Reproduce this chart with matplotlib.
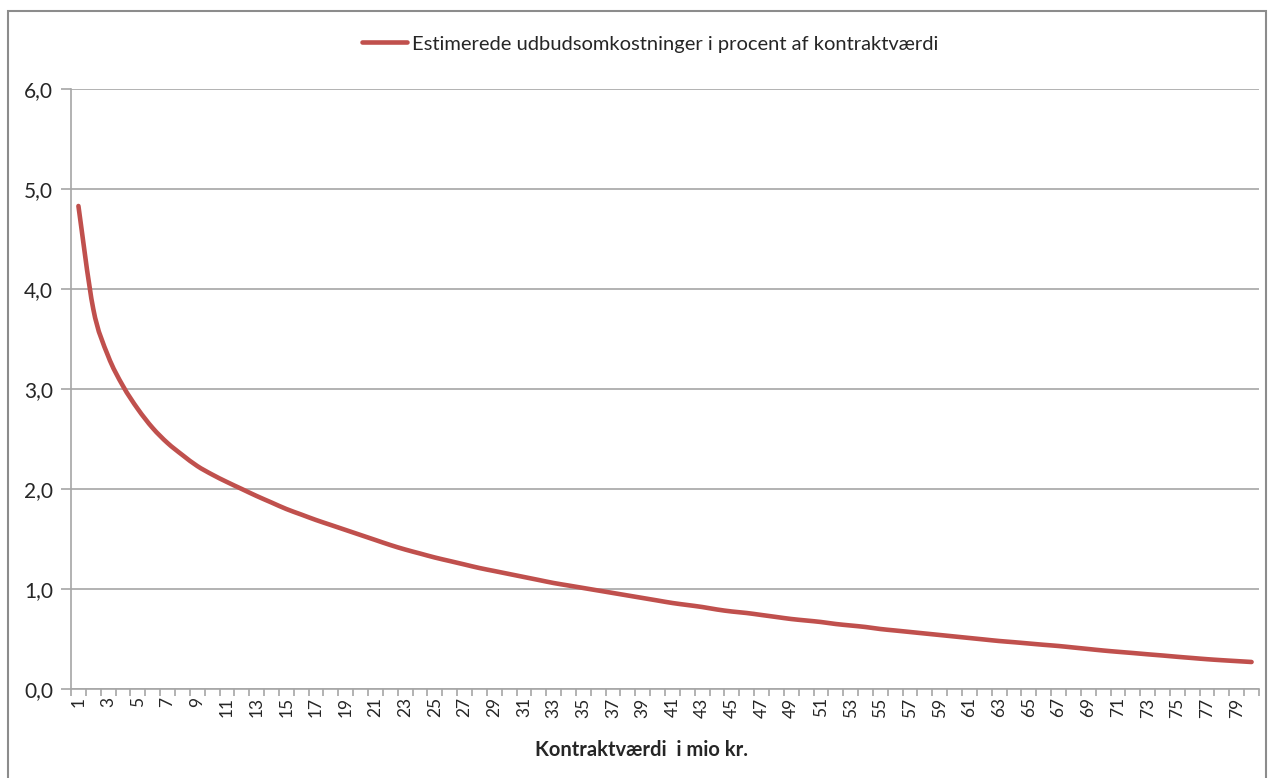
"""
Udbudsomkostninger som procent af kontraktværdi (1-80 mio kr.)
"""

import matplotlib
matplotlib.use('Agg')
import matplotlib.pyplot as plt
from matplotlib.path import Path
from matplotlib.patches import PathPatch, Rectangle
from matplotlib.lines import Line2D
import numpy as np

plt.rcParams['font.family'] = ['Lato', 'DejaVu Sans']

# kontraktværdi i mio kr. (kategorier)
kontraktvaerdi = list(range(1, 81))

# estimerede udbudsomkostninger i procent
omkostning_pct = [
    4.83, 3.80, 3.33, 3.03, 2.80, 2.61, 2.46, 2.34, 2.23, 2.145,
    2.07, 2.00, 1.93, 1.865, 1.80, 1.745, 1.69, 1.64, 1.59, 1.54,
    1.49, 1.44, 1.395, 1.355, 1.315, 1.28, 1.245, 1.21, 1.18, 1.15,
    1.12, 1.09, 1.06, 1.035, 1.01, 0.985, 0.96, 0.935, 0.91, 0.885,
    0.86, 0.84, 0.82, 0.795, 0.775, 0.76, 0.74, 0.72, 0.70, 0.685,
    0.67, 0.65, 0.635, 0.62, 0.60, 0.585, 0.57, 0.555, 0.54, 0.525,
    0.51, 0.495, 0.48, 0.468, 0.455, 0.442, 0.43, 0.415, 0.40, 0.385,
    0.372, 0.36, 0.347, 0.335, 0.322, 0.31, 0.298, 0.288, 0.279, 0.27,
]

y_ticks = [0, 1, 2, 3, 4, 5, 6]
y_ticklabels = ['0,0', '1,0', '2,0', '3,0', '4,0', '5,0', '6,0']

serie_navn = 'Estimerede udbudsomkostninger i procent af kontraktværdi'
x_titel = 'Kontraktværdi  i mio kr.'

RED = '#C0504D'
GRID = '#A6A6A6'


def smooth_path(x, y):
    # glat kurve gennem punkterne (Catmull-Rom som kubiske bezier-stykker)
    x = np.asarray(x, float)
    y = np.asarray(y, float)
    n = len(x)
    verts = [(x[0], y[0])]
    codes = [Path.MOVETO]
    for i in range(n - 1):
        i0 = max(i - 1, 0)
        i3 = min(i + 2, n - 1)
        c1 = (x[i] + (x[i + 1] - x[i0]) / 6, y[i] + (y[i + 1] - y[i0]) / 6)
        c2 = (x[i + 1] - (x[i3] - x[i]) / 6, y[i + 1] - (y[i3] - y[i]) / 6)
        verts += [c1, c2, (x[i + 1], y[i + 1])]
        codes += [Path.CURVE4] * 3
    return Path(verts, codes)


fig = plt.figure(figsize=(12.72, 7.78), dpi=100)
ax = fig.add_axes([71 / 1272, 89 / 778, 1188 / 1272, 600 / 778])

# ydre ramme om diagrammet
fig.patches.append(Rectangle((8 / 1272, -0.05), 1258 / 1272, 1.05 - 11 / 778,
                             transform=fig.transFigure, fill=False,
                             edgecolor='#8C8C8C', lw=1.5))

ax.add_patch(PathPatch(smooth_path(kontraktvaerdi, omkostning_pct), fill=False,
                       edgecolor=RED, lw=3.3, capstyle='round', joinstyle='round',
                       zorder=3))

ax.set_xlim(0.5, len(kontraktvaerdi) + 0.5)
ax.set_ylim(0, 6)

ax.set_yticks(y_ticks)
ax.set_yticklabels(y_ticklabels, fontsize=15, color='#262626')
ax.yaxis.grid(True, color=GRID, lw=1.2)
ax.set_axisbelow(True)

# labels paa hver anden kategori, streger mellem kategorierne
ax.set_xticks(kontraktvaerdi[::2])
ax.set_xticklabels([str(v) for v in kontraktvaerdi[::2]], rotation=90,
                   fontsize=12.5, color='#262626')
ax.set_xticks(np.arange(0.5, len(kontraktvaerdi) + 1), minor=True)
ax.tick_params(axis='x', which='major', length=0, pad=6)
ax.tick_params(axis='x', which='minor', length=5, color=GRID, width=1.2)
ax.tick_params(axis='y', length=7, color=GRID, width=1.2, pad=6)

for side in ['top', 'right']:
    ax.spines[side].set_visible(False)
for side in ['left', 'bottom']:
    ax.spines[side].set_color(GRID)
    ax.spines[side].set_linewidth(1.2)

fig.text(0.504, 1 - 750 / 778, x_titel, ha='center', va='center',
         fontsize=14.5, fontweight='bold', color='#262626')

handle = Line2D([], [], color=RED, lw=3.3, solid_capstyle='round')
fig.legend([handle], [serie_navn], loc='center', bbox_to_anchor=(0.511, 1 - 44 / 778),
           frameon=False, fontsize=14.5, handlelength=2.25, handletextpad=0.25,
           labelcolor='#262626')

plt.savefig('out.png', dpi=100)
plt.close()
